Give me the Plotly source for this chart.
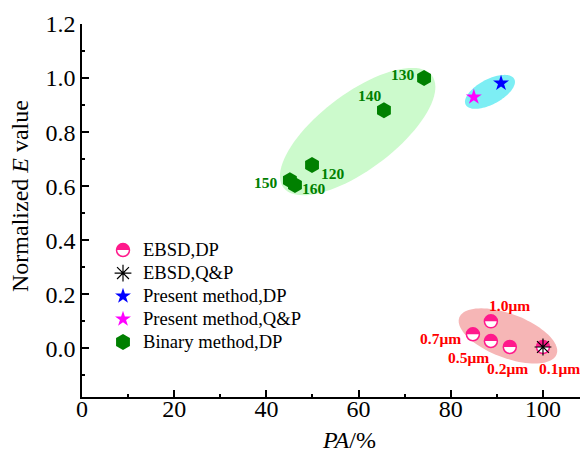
import math
import plotly.graph_objects as go

# ---- data ----------------------------------------------------------------
ebsd_dp_pa = [88.7, 84.8, 88.7, 92.8, 100.0]
ebsd_dp_e = [0.100, 0.052, 0.027, 0.005, 0.005]
ebsd_dp_labels = ["1.0\u03bcm", "0.7\u03bcm", "0.5\u03bcm", "0.2\u03bcm", "0.1\u03bcm"]

ebsd_qp_pa = [100.0]
ebsd_qp_e = [0.005]

present_dp_pa = [90.9]
present_dp_e = [0.981]

present_qp_pa = [85.0]
present_qp_e = [0.930]

binary_dp_pa = [49.9, 74.2, 65.5, 45.1, 46.2]
binary_dp_e = [0.678, 1.000, 0.881, 0.622, 0.604]
binary_dp_labels = ["120", "130", "140", "150", "160"]

x_ticks = [0, 20, 40, 60, 80, 100]
y_ticks = [0.0, 0.2, 0.4, 0.6, 0.8, 1.0, 1.2]

# ---- style ---------------------------------------------------------------
FONT = "Liberation Serif"
PINK = "#ff1a8c"
RED = "#ff0000"
GREEN = "#008000"

# label offsets in pixels (dx right, dy up) and anchors
ebsd_label_style = [(19, 16, "center"), (-10, -4, "right"), (-22, -16, "center"),
                    (-2, -21, "center"), (17, -21, "center")]
binary_label_style = [(21, -8, "center"), (-7, 4, "right"), (-14, 15, "center"),
                      (-10, -2, "right"), (19, -3, "center")]

# highlight ellipses: centre (data), semi-axes (px), tilt (deg), fill colour
ellipses = [
    (59.8, 0.802, 93, 38, 37, "rgb(204,250,204)"),
    (88.5, 0.949, 27.5, 12.5, 28, "rgb(125,238,244)"),
    (92.4, 0.046, 52, 22, -20.7, "rgb(246,182,182)"),
]


def ellipse_path(a, b, tilt, n=90):
    t = math.radians(tilt)
    pts = []
    for k in range(n):
        u = 2 * math.pi * k / n
        ex, ey = a * math.cos(u), b * math.sin(u)
        pts.append((ex * math.cos(t) - ey * math.sin(t), ex * math.sin(t) + ey * math.cos(t)))
    return "M" + " L".join(f"{px:.2f},{py:.2f}" for px, py in pts) + " Z"


def arc_path(r, start, stop, n=40):
    pts = []
    for k in range(n + 1):
        u = math.radians(start + (stop - start) * k / n)
        pts.append((r * math.cos(u), r * math.sin(u)))
    return "M" + " L".join(f"{px:.2f},{py:.2f}" for px, py in pts) + " Z"


shapes = []
for cx, cy, a, b, tilt, col in ellipses:
    shapes.append(dict(type="path", xref="x", yref="y", xsizemode="pixel", ysizemode="pixel",
                       xanchor=cx, yanchor=cy, path=ellipse_path(a, b, tilt),
                       fillcolor=col, line=dict(width=0), layer="below"))

# half-filled circle markers (white disc + pink upper half)
R = 6.5
for px_, py_ in zip(ebsd_dp_pa, ebsd_dp_e):
    shapes.append(dict(type="path", xref="x", yref="y", xsizemode="pixel", ysizemode="pixel",
                       xanchor=px_, yanchor=py_, path=arc_path(R, 0, 360, 60),
                       fillcolor="white", line=dict(width=0), layer="below"))
    shapes.append(dict(type="path", xref="x", yref="y", xsizemode="pixel", ysizemode="pixel",
                       xanchor=px_, yanchor=py_, path=arc_path(R, 0, 180),
                       fillcolor=PINK, line=dict(width=0), layer="below"))

# upper half for the legend symbol
shapes.append(dict(type="path", xref="paper", yref="paper", xsizemode="pixel", ysizemode="pixel",
                   xanchor=(123 - 82) / 498, yanchor=(397 - 250) / 373,
                   path=arc_path(R, 0, 180), fillcolor=PINK, line=dict(width=0), layer="above"))

fig = go.Figure()

legend_span = '<span style="font-size:18.6px">{}</span>'

fig.add_trace(go.Scatter(
    x=ebsd_dp_pa, y=ebsd_dp_e, mode="markers", name=legend_span.format("EBSD,DP"),
    marker=dict(symbol="circle", size=13, color="rgba(0,0,0,0)", line=dict(color=PINK, width=1.5)),
))
fig.add_trace(go.Scatter(
    x=ebsd_qp_pa, y=ebsd_qp_e, mode="markers", name=legend_span.format("EBSD,Q&amp;P"),
    marker=dict(symbol="asterisk-open", size=14, color="black", line=dict(color="black", width=1.2)),
))
fig.add_trace(go.Scatter(
    x=present_dp_pa, y=present_dp_e, mode="markers", name=legend_span.format("Present method,DP"),
    marker=dict(symbol="star", size=12, color="#0000ff", line=dict(width=0)),
))
fig.add_trace(go.Scatter(
    x=present_qp_pa, y=present_qp_e, mode="markers", name=legend_span.format("Present method,Q&amp;P"),
    marker=dict(symbol="star", size=12, color="#ff00ff", line=dict(width=0)),
))
fig.add_trace(go.Scatter(
    x=binary_dp_pa, y=binary_dp_e, mode="markers", name=legend_span.format("Binary method,DP"),
    marker=dict(symbol="hexagon", size=16, color=GREEN, line=dict(width=0)),
))

annotations = []
for x_, y_, txt, (dx, dy, anc) in zip(ebsd_dp_pa, ebsd_dp_e, ebsd_dp_labels, ebsd_label_style):
    annotations.append(dict(x=x_, y=y_, xref="x", yref="y", text=f"<b>{txt}</b>", showarrow=False,
                            xanchor=anc, yanchor="middle", xshift=dx, yshift=dy,
                            font=dict(family=FONT, size=15.5, color=RED)))
for x_, y_, txt, (dx, dy, anc) in zip(binary_dp_pa, binary_dp_e, binary_dp_labels, binary_label_style):
    annotations.append(dict(x=x_, y=y_, xref="x", yref="y", text=f"<b>{txt}</b>", showarrow=False,
                            xanchor=anc, yanchor="middle", xshift=dx, yshift=dy,
                            font=dict(family=FONT, size=15.5, color=GREEN)))

# axis titles
annotations.append(dict(x=(349 - 82) / 498, y=(397 - 440) / 373, xref="paper", yref="paper",
                        text="<i>PA</i>/%", showarrow=False, xanchor="center", yanchor="middle",
                        font=dict(family=FONT, size=24, color="black")))
annotations.append(dict(x=(20 - 82) / 498, y=(397 - 196) / 373, xref="paper", yref="paper",
                        text="Normalized <i>E</i> value", showarrow=False, textangle=-90,
                        xanchor="center", yanchor="middle",
                        font=dict(family=FONT, size=24, color="black")))

axis_common = dict(
    showline=True, linecolor="black", linewidth=1.5, showgrid=False, zeroline=False,
    ticks="inside", ticklen=7, tickwidth=1.5, tickcolor="black",
    tickfont=dict(family=FONT, size=24, color="black"),
)

fig.update_layout(
    width=580, height=455,
    margin=dict(l=82, r=0, t=24, b=58),
    paper_bgcolor="white", plot_bgcolor="white",
    font=dict(family=FONT, color="black"),
    xaxis=dict(range=[0, 108.03], tickvals=x_ticks, ticktext=[str(v) for v in x_ticks],
               ticklabelstandoff=-11,
               minor=dict(ticks="inside", dtick=10, tick0=0, ticklen=3.5, tickwidth=1.5, tickcolor="black"),
               **axis_common),
    yaxis=dict(range=[-0.18, 1.2], tickvals=y_ticks, ticktext=[f"{v:.1f}" for v in y_ticks],
               minor=dict(ticks="inside", dtick=0.1, tick0=0, ticklen=3.5, tickwidth=1.5, tickcolor="black"),
               **axis_common),
    legend=dict(x=(103 - 82) / 498, y=(397 - 233.5) / 373, xanchor="left", yanchor="top",
                bgcolor="rgba(0,0,0,0)", borderwidth=0,
                font=dict(family=FONT, size=15.4, color="black"), itemsizing="trace"),
    shapes=shapes,
    annotations=annotations,
)

fig.write_html("out.html")
